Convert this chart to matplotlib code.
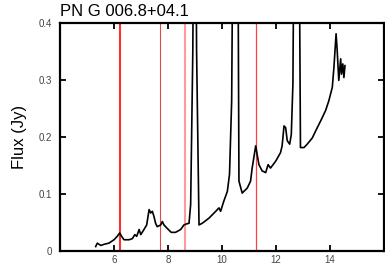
import numpy as np
import matplotlib
matplotlib.use("Agg")
import matplotlib.pyplot as plt

matplotlib.rcParams['font.family'] = ['Liberation Sans', 'DejaVu Sans']

# spectrum (wavelength in micron, flux in Jy)
wave = [5.32, 5.38, 5.51, 5.63, 5.81, 6.00, 6.12, 6.21, 6.28, 6.37, 6.56, 6.68, 6.77, 6.84,
        6.93, 6.99, 7.11, 7.21, 7.30, 7.36, 7.42, 7.48, 7.54, 7.60, 7.73, 7.79, 7.85, 7.97,
        8.12, 8.28, 8.47, 8.59, 8.70, 8.78, 8.84, 8.92, 8.99, 9.06, 9.15, 9.27, 9.52, 9.77,
        9.89, 9.95, 10.07, 10.20, 10.28, 10.36, 10.44, 10.50, 10.57, 10.63, 10.75, 10.94,
        11.06, 11.12, 11.25, 11.37, 11.49, 11.62, 11.71, 11.80, 11.99, 12.17, 12.23, 12.30,
        12.36, 12.42, 12.51, 12.57, 12.63, 12.70, 12.79, 12.87, 12.91, 13.04, 13.16, 13.35,
        13.47, 13.66, 13.84, 13.96, 14.09, 14.15, 14.23, 14.27, 14.33, 14.40, 14.43, 14.48,
        14.52, 14.56]
flux = [0.007, 0.013, 0.009, 0.011, 0.013, 0.019, 0.025, 0.031, 0.025, 0.019, 0.019, 0.021,
        0.028, 0.025, 0.037, 0.028, 0.037, 0.045, 0.072, 0.066, 0.069, 0.060, 0.048, 0.042,
        0.045, 0.051, 0.045, 0.039, 0.032, 0.032, 0.037, 0.045, 0.047, 0.048, 0.081, 0.35,
        0.9, 0.35, 0.045, 0.048, 0.057, 0.069, 0.075, 0.069, 0.087, 0.104, 0.134, 0.263,
        0.8, 1.0, 0.8, 0.122, 0.101, 0.110, 0.122, 0.145, 0.184, 0.151, 0.140, 0.137, 0.151,
        0.145, 0.157, 0.172, 0.184, 0.219, 0.216, 0.193, 0.187, 0.204, 0.293, 0.8, 0.9, 0.5,
        0.181, 0.181, 0.187, 0.198, 0.210, 0.228, 0.246, 0.263, 0.287, 0.322, 0.381, 0.352,
        0.299, 0.337, 0.310, 0.328, 0.304, 0.325]

# PAH feature markers
pah_wave = [6.22, 7.70, 8.63, 11.25]
pah_color = ['#ff3030', '#e04848', '#ff9a9a', '#ff4040']
pah_width = [1.5, 0.8, 1.5, 0.9]

yticks = [0, 0.1, 0.2, 0.3, 0.4]
ylabels = ['0', '0.1', '0.2', '0.3', '0.4']
xticks = [6, 8, 10, 12, 14]

fig = plt.figure(figsize=(3.85, 2.70), dpi=100)
ax = fig.add_axes([0.156, 0.072, 0.841, 0.843])

for w, c, lw in zip(pah_wave, pah_color, pah_width):
    ax.axvline(w, color=c, lw=lw, zorder=1)

ax.plot(wave, flux, color='black', lw=1.2, zorder=2)

ax.set_xlim(4, 16)
ax.set_ylim(0, 0.4)
ax.set_xticks(xticks)
ax.set_yticks(yticks)
ax.set_yticklabels(ylabels)
ax.tick_params(direction='in', length=4.5, width=1.3, top=True, right=True,
               labelsize=7, labelcolor='#444444')
ax.tick_params(axis='x', pad=3)
ax.tick_params(axis='y', pad=6)
for s in ax.spines.values():
    s.set_linewidth(1.6)

ax.set_ylabel('Flux (Jy)', fontsize=12, labelpad=8)
fig.text(0.157, 0.93, 'PN G 006.8+04.1', fontsize=12, ha='left', va='bottom')

plt.savefig('out.png', dpi=100)
